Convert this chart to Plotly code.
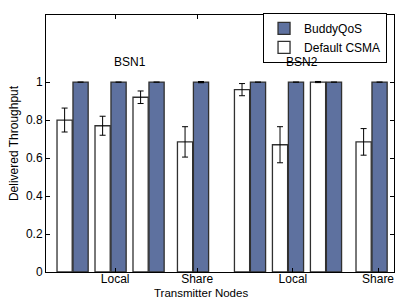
import plotly.graph_objects as go

# group positions along x (slots)
positions = [1, 2, 3, 4.17, 5.67, 6.67, 7.67, 8.87]
csma_vals = [0.80, 0.77, 0.92, 0.685, 0.96, 0.67, 1.0, 0.685]
csma_err = [0.063, 0.05, 0.033, 0.08, 0.032, 0.095, 0.003, 0.07]
buddy_vals = [1.0, 1.0, 1.0, 1.0, 1.0, 1.0, 1.0, 1.0]
buddy_err = [0.0, 0.0, 0.0, 0.003, 0.0, 0.0, 0.0, 0.0]
tick_pos = [2.12, 4.28, 6.80, 9.04]
tick_text = ["Local", "Share", "Local", "Share"]
ann_pos = [(2.51, 1.106), (7.04, 1.106)]
ann_text = ["BSN1", "BSN2"]

FONT = "Liberation Sans, Arial, sans-serif"

fig = go.Figure()
fig.add_trace(go.Bar(
    x=positions, y=buddy_vals, name="BuddyQoS",
    width=0.4, offset=0.01,
    marker=dict(color="#5E719F", line=dict(color="#303030", width=1.3)),
    error_y=dict(type="data", array=buddy_err, color="black", thickness=1.2, width=3),
))
fig.add_trace(go.Bar(
    x=positions, y=csma_vals, name="Default CSMA",
    width=0.4, offset=-0.41,
    marker=dict(color="white", line=dict(color="#303030", width=1.3)),
    error_y=dict(type="data", array=csma_err, color="black", thickness=1, width=3),
))

for (ax, ay), t in zip(ann_pos, ann_text):
    fig.add_annotation(x=ax, y=ay, text=t, showarrow=False,
                       font=dict(family=FONT, size=12, color="black"))

fig.add_annotation(x=0.445, y=0, xref="paper", yref="paper", yshift=-21,
                   text="Transmitter Nodes", showarrow=False,
                   xanchor="center", yanchor="middle",
                   font=dict(family=FONT, size=11.5, color="black"))

fig.update_layout(
    width=395, height=301,
    margin=dict(l=46, r=1, t=15, b=29, autoexpand=False),
    paper_bgcolor="white", plot_bgcolor="white",
    barmode="overlay",
    showlegend=True,
    legend=dict(x=0.98, y=1.008, xanchor="right", yanchor="top",
                bordercolor="black", borderwidth=1, bgcolor="white",
                font=dict(family=FONT, size=12, color="black"),
                traceorder="normal", tracegroupgap=0,
                itemwidth=30),
    font=dict(family=FONT, size=12, color="black"),
)
fig.update_xaxes(
    range=[0.30, 9.46], tickvals=tick_pos, ticktext=tick_text,
    showline=True, linecolor="black", linewidth=1, mirror="ticks",
    ticks="inside", ticklen=4, tickcolor="black", showgrid=False, zeroline=False,
    tickfont=dict(size=12), automargin=False, ticklabelstandoff=-4,
)
fig.update_yaxes(
    range=[0, 1.353], tickvals=[0, 0.2, 0.4, 0.6, 0.8, 1], ticktext=["0", "0.2", "0.4", "0.6", "0.8", "1"],
    showline=True, linecolor="black", linewidth=1, mirror="ticks",
    ticks="inside", ticklen=4, tickcolor="black", showgrid=False, zeroline=False,
    title=dict(text="Delivered Throughput", standoff=4, font=dict(size=12)),
    tickfont=dict(size=12), automargin=False,
)

fig.write_html("out.html", config={"displayModeBar": False})
with open("out.html", "r", encoding="utf-8") as f:
    html = f.read()
html = html.replace("<head>", "<head><style>html,body{margin:0;padding:0;overflow:hidden;}</style>", 1)
with open("out.html", "w", encoding="utf-8") as f:
    f.write(html)
